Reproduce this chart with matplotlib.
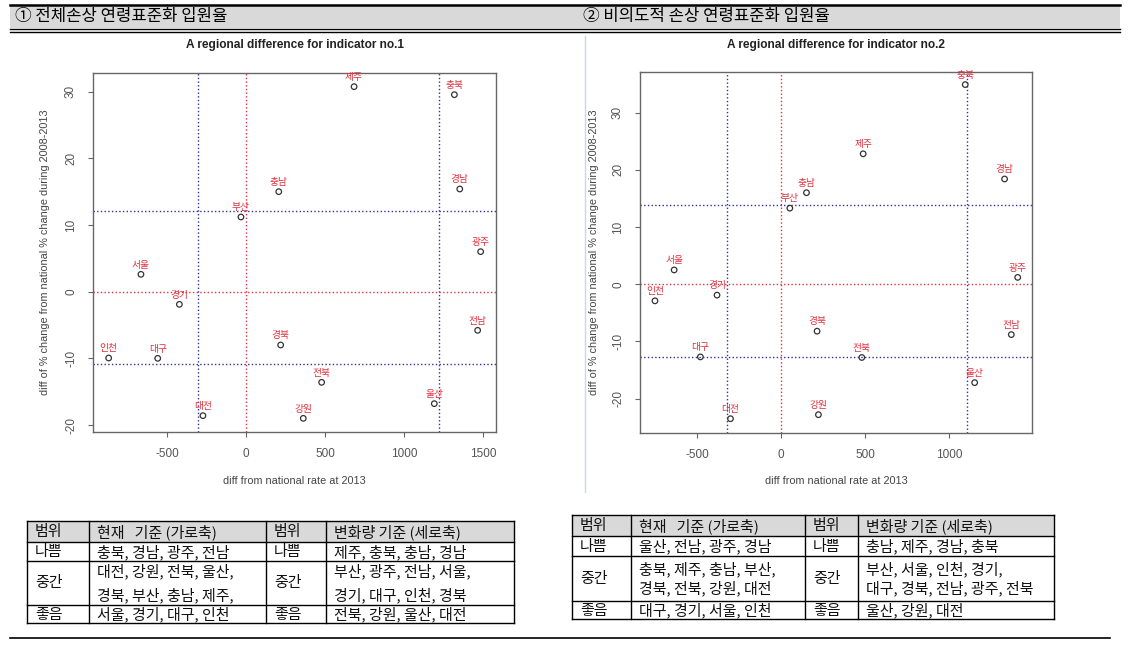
import numpy as np
import matplotlib.pyplot as plt
from matplotlib.patches import Rectangle

plt.rcParams['font.family'] = ['Liberation Sans', 'Noto Sans CJK KR', 'DejaVu Sans']
plt.rcParams['axes.unicode_minus'] = False
KR = ['Noto Sans CJK KR', 'DejaVu Sans']

# ---- data: indicator no.1 (all injuries) ----
regions1 = ['제주', '충북', '경남', '충남', '부산', '광주', '서울', '경기',
            '전남', '경북', '인천', '대구', '전북', '울산', '대전', '강원']
x1 = [683, 1317, 1351, 207, -32, 1483, -664, -421,
      1464, 219, -868, -558, 478, 1190, -272, 362]
y1 = [30.75, 29.55, 15.4, 15.0, 11.2, 6.0, 2.6, -1.9,
      -5.8, -8.0, -9.95, -10.0, -13.6, -16.8, -18.6, -19.0]
vlines1 = [-305, 1222]
hlines1 = [12.1, -10.9]

# ---- data: indicator no.2 (unintentional injuries) ----
regions2 = ['충북', '제주', '경남', '충남', '부산', '서울', '광주', '인천',
            '경기', '경북', '전남', '대구', '전북', '울산', '대전', '강원']
x2 = [1095, 488, 1329, 151, 52, -636, 1407, -750,
      -381, 214, 1369, -480, 480, 1151, -301, 222]
y2 = [34.9, 22.8, 18.4, 16.0, 13.3, 2.5, 1.2, -2.9,
      -1.9, -8.2, -8.8, -12.7, -12.8, -17.2, -23.5, -22.8]
vlines2 = [-321, 1107]
hlines2 = [13.9, -12.7]

titles = ['A regional difference for indicator no.1',
          'A regional difference for indicator no.2']
headers = ['① 전체손상 연령표준화 입원율', '② 비의도적 손상 연령표준화 입원율']
xlabel = 'diff from national rate at 2013'
ylabel = 'diff of % change from national % change during 2008-2013'

# ---- table contents ----
table_head = ['범위', '현재   기준 (가로축)', '범위', '변화량 기준 (세로축)']
table1 = [
    ['나쁨', '충북, 경남, 광주, 전남', '나쁨', '제주, 충북, 충남, 경남'],
    ['중간', '대전, 강원, 전북, 울산,\n경북, 부산, 충남, 제주,', '중간',
     '부산, 광주, 전남, 서울,\n경기, 대구, 인천, 경북'],
    ['좋음', '서울, 경기, 대구, 인천', '좋음', '전북, 강원, 울산, 대전'],
]
table2 = [
    ['나쁨', '울산, 전남, 광주, 경남', '나쁨', '충남, 제주, 경남, 충북'],
    ['중간', '충북, 제주, 충남, 부산,\n경북, 전북, 강원, 대전', '중간',
     '부산, 서울, 인천, 경기,\n대구, 경북, 전남, 광주, 전북'],
    ['좋음', '대구, 경기, 서울, 인천', '좋음', '울산, 강원, 대전'],
]

W, H = 1131, 659
fig = plt.figure(figsize=(W / 100, H / 100), dpi=100)


def px_axes(l, t, r, b):
    return fig.add_axes([l / W, 1 - b / H, (r - l) / W, (b - t) / H])


def scatter_panel(box, xs, ys, names, vls, hls, xlim, ylim, xticks, title, ylab_x):
    ax = px_axes(*box)
    ax.scatter(xs, ys, s=16, facecolors='none', edgecolors='#333333', linewidths=0.9, zorder=3)
    for xv, yv, nm in zip(xs, ys, names):
        ax.annotate(nm, (xv, yv), xytext=(0, 7), textcoords='offset points',
                    ha='center', va='center', fontsize=7, color='#e0303c',
                    family=KR, zorder=4, annotation_clip=False)
    for v in vls:
        ax.axvline(v, color='#3030a0', ls=':', lw=1.0)
    ax.axvline(0, color='#e03040', ls=':', lw=1.0)
    for h in hls:
        ax.axhline(h, color='#3030a0', ls=':', lw=1.0)
    ax.axhline(0, color='#e03040', ls=':', lw=1.0)
    ax.set_xlim(*xlim)
    ax.set_ylim(*ylim)
    ax.set_xticks(xticks)
    ax.set_yticks([-20, -10, 0, 10, 20, 30])
    ax.tick_params(colors='#666666', labelcolor='#555555', labelsize=8.5,
                   length=3.5, width=0.8, pad=8)
    for t in ax.get_yticklabels():
        t.set_rotation(90)
        t.set_va('center')
    for s in ax.spines.values():
        s.set_color('#666666')
        s.set_linewidth(1.0)
    l, t, r, b = box
    fig.text(((l + r) / 2) / W, 1 - 45 / H, title, ha='center', va='center',
             fontsize=8.6, fontweight='bold', color='#222222')
    fig.text(((l + r) / 2) / W, 1 - 481 / H, xlabel, ha='center', va='center',
             fontsize=7.8, color='#444444')
    fig.text(ylab_x / W, 1 - 252 / H, ylabel, ha='center', va='center',
             rotation=90, fontsize=7.8, color='#444444')
    return ax


scatter_panel((93, 73, 496, 432), x1, y1, regions1, vlines1, hlines1,
              (-967, 1580), (-21.05, 32.8), [-500, 0, 500, 1000, 1500], titles[0], 45)
scatter_panel((640, 72, 1032, 433), x2, y2, regions2, vlines2, hlines2,
              (-839, 1492), (-26.0, 37.1), [-500, 0, 500, 1000], titles[1], 594)

# ---- overlay for header, tables, rules ----
ov = fig.add_axes([0, 0, 1, 1], zorder=-1)
ov.set_xlim(0, W)
ov.set_ylim(H, 0)
ov.axis('off')

ov.add_patch(Rectangle((10, 5), 1110, 23, facecolor='#d9d9d9', edgecolor='none'))
ov.plot([10, 1120], [5, 5], color='black', lw=1.8)
ov.plot([10, 1120], [29, 29], color='black', lw=1.0)
ov.plot([10, 1120], [31.5, 31.5], color='black', lw=1.0)
ov.text(15, 16.5, headers[0], family=KR, fontsize=12, va='center', ha='left')
ov.text(583, 16.5, headers[1], family=KR, fontsize=12, va='center', ha='left')
ov.plot([585, 585], [36, 492], color='#c6d8ee', lw=1.0)
ov.plot([10, 1110], [638, 638], color='black', lw=1.2)


def draw_table(cols, rows_y, data, spacing):
    x0, x1_ = cols[0], cols[-1]
    ov.add_patch(Rectangle((x0, rows_y[0]), x1_ - x0, rows_y[1] - rows_y[0],
                           facecolor='#d9d9d9', edgecolor='none'))
    for yy in rows_y:
        ov.plot([x0, x1_], [yy, yy], color='black', lw=1.0)
    for xx in cols:
        ov.plot([xx, xx], [rows_y[0], rows_y[-1]], color='black', lw=1.0)
    all_rows = [table_head] + data
    for i, row in enumerate(all_rows):
        yc = (rows_y[i] + rows_y[i + 1]) / 2 + 0.5
        for j, cell in enumerate(row):
            ov.text(cols[j] + 8, yc, cell, family=KR, fontsize=10.8,
                    ha='left', va='center', linespacing=spacing, color='#111111')


draw_table([27, 89, 266, 326, 514], [521, 542, 561, 605, 623], table1, 1.6)
draw_table([572, 631, 805, 858, 1054], [515, 536, 556, 601, 619], table2, 1.2)

fig.savefig('out.png', dpi=100)
